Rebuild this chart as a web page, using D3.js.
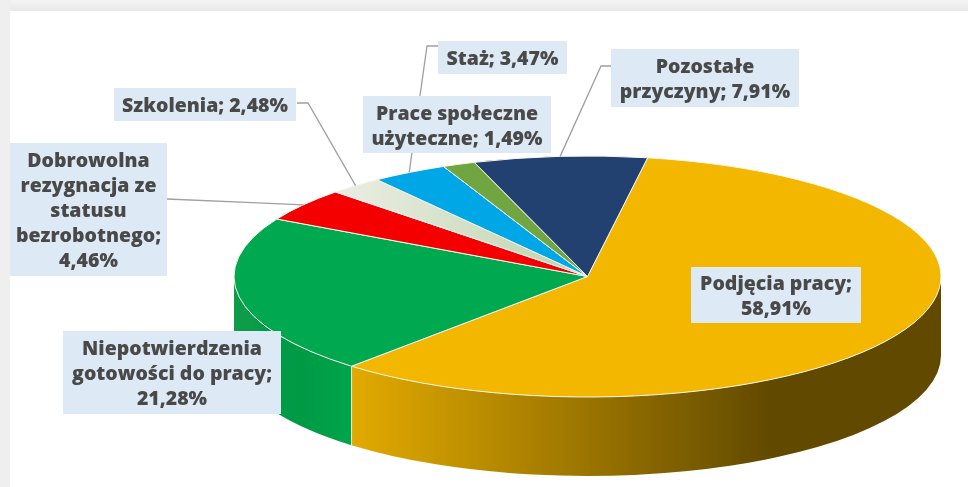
<!DOCTYPE html>
<html lang="pl">
<head>
<meta charset="utf-8">
<script src="https://d3js.org/d3.v7.min.js"></script>
<style>
  html, body { margin: 0; padding: 0; background: #fff; overflow: hidden; }
  svg { display: block; }
  text { font-family: "Open Sans", sans-serif; font-weight: 800; fill: #4a4a4a; }
</style>
</head>
<body>
<script>
// values, clockwise from the top of the pie
const categories = ["Podjęcia pracy", "Niepotwierdzenia", "Dobrowolna rezygnacja", "Szkolenia", "Staż", "Prace społeczne", "Pozostałe przyczyny"];
const shares = [58.91, 21.28, 4.46, 2.48, 3.47, 1.49, 7.91];
const sliceColors = ["#f3b700", "#00a94f", "#f40000", "url(#lightFill)", "#00a7e6", "#6fa542", "#223f70"];
const sideColors = ["url(#orangeSide)", "url(#greenSide)", "#c00000", "#b0b8a0", "#0085b8", "#56803a", "#182c50"];

const labelLines = [
  ["Podjęcia pracy;", "58,91%"],
  ["Niepotwierdzenia", "gotowości do pracy;", "21,28%"],
  ["Dobrowolna", "rezygnacja ze", "statusu", "bezrobotnego;", "4,46%"],
  ["Szkolenia; 2,48%"],
  ["Staż; 3,47%"],
  ["Prace społeczne", "użyteczne; 1,49%"],
  ["Pozostałe", "przyczyny; 7,91%"]
];
// label box [x0, y0, x1, y1]
const labelBoxes = [
  [691, 267, 861, 323],
  [63, 331, 281, 414],
  [10, 143, 167, 276],
  [114, 88, 296, 121],
  [438, 41, 567, 74],
  [363, 96, 551, 153],
  [611, 49, 799, 107]
];
// leader line start points (box edge, elbow), null = no leader
const leaderStarts = [
  null,
  null,
  [[167, 199]],
  [[297, 103], [308, 103]],
  [[438, 46], [427, 46]],
  null,
  [[611, 66], [601, 66]]
];

const width = 968, height = 487;
const cx = 587.5, cy = 276.5, rx = 353.5, ry = 120.5, depth = 79;
const lineHeight = 25;

const x = d3.scaleLinear().domain([-1, 1]).range([cx - rx, cx + rx]);
const y = d3.scaleLinear().domain([-1, 1]).range([cy - ry, cy + ry]);
const rimX = a => x(Math.sin(a));
const rimY = a => y(-Math.cos(a));

const svg = d3.select("body").append("svg").attr("width", width).attr("height", height);
const defs = svg.append("defs");

// the reference is a soft, slightly blurred scan
defs.append("filter").attr("id", "soft").append("feGaussianBlur").attr("stdDeviation", 0.45);
const chart = svg.append("g").attr("filter", "url(#soft)");

function addGradient(id, x1, x2, stops) {
  const g = defs.append("linearGradient").attr("id", id)
    .attr("gradientUnits", "userSpaceOnUse")
    .attr("x1", x1).attr("x2", x2).attr("y1", 0).attr("y2", 0);
  stops.forEach(s => g.append("stop").attr("offset", s[0]).attr("stop-color", s[1]));
}
addGradient("orangeSide", 350, 770, [[0, "#e3ab00"], [1, "#624a00"]]);
addGradient("greenSide", 234, 350, [[0, "#0a9c4a"], [0.6, "#009a45"], [1, "#00a54c"]]);
// lightFill sits inside the translated pie group, so x is relative to the centre
addGradient("lightFill", -230, -20, [[0, "#e8ece0"], [1, "#bfd6b0"]]);

// page frame
const frameTop = defs.append("linearGradient").attr("id", "frameTop")
  .attr("x1", 0).attr("x2", 0).attr("y1", 0).attr("y2", 1);
frameTop.append("stop").attr("offset", 0).attr("stop-color", "#f4f4f4");
frameTop.append("stop").attr("offset", 1).attr("stop-color", "#e8e8e8");
svg.append("rect").attr("width", width).attr("height", 11).attr("fill", "url(#frameTop)");
svg.append("rect").attr("width", 10).attr("height", height).attr("fill", "#efefef");

const pie = d3.pie().sort(null).value(d => d)
  .startAngle(9.8 * Math.PI / 180)
  .endAngle(369.8 * Math.PI / 180);
const slices = pie(shares);

// side wall, only the front half of the ellipse can be seen
function wallPath(a0, a1) {
  return "M" + rimX(a0) + "," + rimY(a0) +
    "A" + rx + "," + ry + " 0 0 1 " + rimX(a1) + "," + rimY(a1) +
    "L" + rimX(a1) + "," + (rimY(a1) + depth) +
    "A" + rx + "," + ry + " 0 0 0 " + rimX(a0) + "," + (rimY(a0) + depth) + "Z";
}
const walls = slices
  .map((d, i) => ({ i, a0: Math.max(d.startAngle, Math.PI / 2), a1: Math.min(d.endAngle, 3 * Math.PI / 2) }))
  .filter(d => d.a1 > d.a0);

chart.append("g").selectAll("path").data(walls).enter().append("path")
  .attr("d", d => wallPath(d.a0, d.a1))
  .attr("fill", d => sideColors[d.i]);
// seam between the two walls
chart.append("g").selectAll("line").data(walls.slice(1)).enter().append("line")
  .attr("x1", d => rimX(d.a0)).attr("x2", d => rimX(d.a0))
  .attr("y1", d => rimY(d.a0)).attr("y2", d => rimY(d.a0) + depth)
  .attr("stroke", "#f4f0d8").attr("stroke-width", 1);

// top of the pie: a circular arc squashed into the ellipse
const arc = d3.arc().innerRadius(0).outerRadius(rx);
chart.append("g")
  .attr("transform", "translate(" + cx + "," + cy + ") scale(1," + (ry / rx) + ")")
  .selectAll("path").data(slices).enter().append("path")
  .attr("d", arc)
  .attr("fill", (d, i) => sliceColors[i])
  .attr("stroke", "#f6f6ee")
  .attr("stroke-width", 1)
  .attr("vector-effect", "non-scaling-stroke");

// leader lines end on the rim at the middle of the slice
const leaderLine = d3.line();
chart.append("g").selectAll("path")
  .data(slices.map((d, i) => ({ d, start: leaderStarts[i] })).filter(l => l.start))
  .enter().append("path")
  .attr("d", l => {
    const mid = (l.d.startAngle + l.d.endAngle) / 2;
    return leaderLine(l.start.concat([[rimX(mid), rimY(mid)]]));
  })
  .attr("fill", "none")
  .attr("stroke", "#a0a0a0")
  .attr("stroke-width", 1.3);

// labels
const labels = chart.append("g").selectAll("g").data(categories).enter().append("g");
labels.append("rect")
  .attr("x", (d, i) => labelBoxes[i][0])
  .attr("y", (d, i) => labelBoxes[i][1])
  .attr("width", (d, i) => labelBoxes[i][2] - labelBoxes[i][0])
  .attr("height", (d, i) => labelBoxes[i][3] - labelBoxes[i][1])
  .attr("fill", "#dde9f5");
labels.each(function (d, i) {
  const lines = labelLines[i], b = labelBoxes[i];
  const top = (b[1] + b[3]) / 2 - (lines.length - 1) * lineHeight / 2;
  d3.select(this).selectAll("text").data(lines).enter().append("text")
    .attr("x", (b[0] + b[2]) / 2)
    .attr("y", (t, j) => top + 1 + j * lineHeight)
    .attr("dy", "0.35em")
    .attr("text-anchor", "middle")
    .attr("font-size", 19.5)
    .text(t => t);
});
</script>
</body>
</html>
